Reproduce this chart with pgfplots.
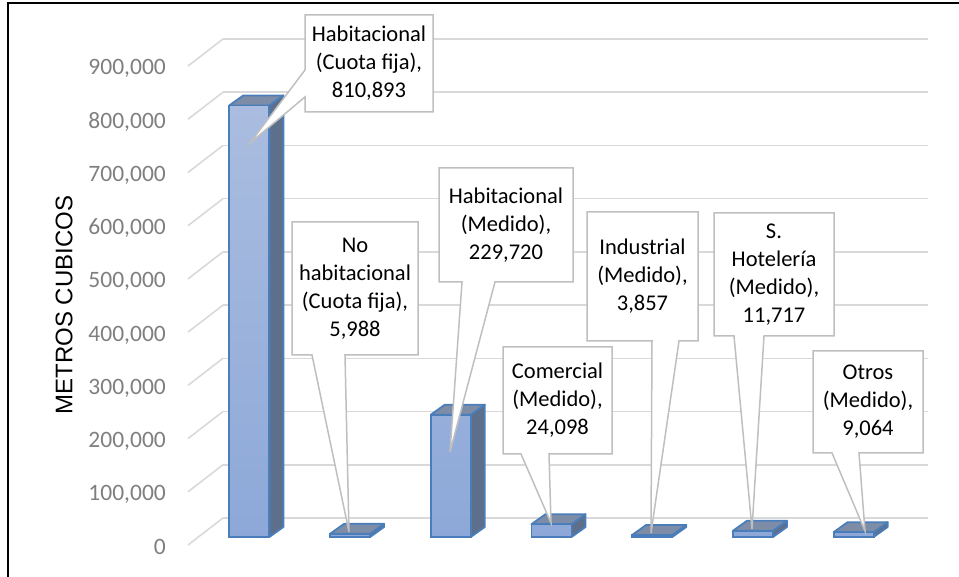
\documentclass[border=0pt]{standalone}
\usepackage{pgfplots}
\pgfplotsset{compat=1.18}
\usepackage{fontspec}
\setmainfont{Carlito}
\newfontfamily\arial{Liberation Sans}
\definecolor{edge}{HTML}{4A7EBB}
\definecolor{fronttop}{HTML}{AABDE0}
\definecolor{frontbot}{HTML}{8DA8D8}
\definecolor{sidec}{HTML}{5E6F8C}
\definecolor{topc}{HTML}{7E8DA7}
\definecolor{gridc}{HTML}{D9D9D9}
\definecolor{tickc}{HTML}{7F7F7F}
\definecolor{callc}{HTML}{BFBFBF}
\newcommand\calfont{\fontsize{22.5bp}{28bp}\selectfont}
% side and top faces of a 3D bar: #1 = category index, #2 = value
\newcommand\barthreed[2]{%
  \pgfmathsetmacro\xa{#1-0.4369}%
  \pgfmathsetmacro\xb{#1-0.0397}%
  \pgfmathsetmacro\xc{#1+0.0993}%
  \pgfmathsetmacro\xd{#1-0.2979}%
  \edef\ya{\the\numexpr#2-35700\relax}%
  \edef\yb{\the\numexpr#2-16910\relax}%
  \edef\tmp{%
    \noexpand\addplot[fill=sidec, draw=edge, line width=1.8bp, line join=round, forget plot]
      coordinates {(\xb,-35700) (\xb,\ya) (\xc,\yb) (\xc,-16910)} -- cycle;
    \noexpand\addplot[fill=topc, draw=edge, line width=1.8bp, line join=round, forget plot]
      coordinates {(\xa,\ya) (\xb,\ya) (\xc,\yb) (\xd,\yb)} -- cycle;
  }\tmp}
% callout with pointer at bottom: L T R B base1 base2 tipx tipy text
\newcommand\calloutB[9]{%
  \filldraw[fill=white, draw=callc, line width=1.5bp]
    (#1,#2) -- (#3,#2) -- (#3,#4) -- (#6,#4) -- (#7,#8) -- (#5,#4) -- (#1,#4) -- cycle;
  \node[align=center, font=\calfont, inner sep=0pt] at ({(#1+#3)/2},{(#2+#4)/2}) {#9};}
\begin{document}
\begin{tikzpicture}
\begin{axis}[
  scale only axis, width=705bp, height=479bp,
  xmin=-0.5, xmax=6.5, ymin=0, ymax=900000,
  clip=false,
  axis line style={draw=none},
  xtick=\empty,
  ytick={0,100000,200000,300000,400000,500000,600000,700000,800000,900000},
  major tick length=0pt,
  ymajorgrids, grid style={draw=gridc, line width=1.6bp},
  scaled y ticks=false,
  /pgf/number format/fixed,
  /pgf/number format/1000 sep={,},
  /pgf/number format/assume math mode=true,
  yticklabel style={anchor=base east, inner sep=0pt, xshift=-57bp, yshift=-36bp,
    font=\fontsize{23.5bp}{28bp}\selectfont, text=tickc},
  ylabel={METROS CUBICOS},
  ylabel style={at={(axis description cs:-0.2255,0.4447)}, anchor=center,
    font=\arial\fontsize{24bp}{28bp}\selectfont},
]
\barthreed{0}{810893}
\barthreed{1}{5988}
\barthreed{2}{229720}
\barthreed{3}{24098}
\barthreed{4}{3857}
\barthreed{5}{11717}
\barthreed{6}{9064}
\addplot[ybar, bar width=40bp, bar shift=-24bp, yshift=-19bp, draw=edge,
  line width=1.8bp, top color=fronttop, bottom color=frontbot]
  coordinates {(0,810893) (1,5988) (2,229720) (3,24098) (4,3857) (5,11717) (6,9064)};
\coordinate (O) at (axis cs:-0.5,0);
\end{axis}
\begin{scope}[shift={(O)}, xshift=-223bp, yshift=518bp, x=1bp, y=-1bp]
  % slanted floor segments of the grid
  \foreach \k in {0,...,9}{
    \draw[gridc, line width=1.6bp] (188,{545-53.222*\k}) -- (223,{518-53.222*\k});
  }
  % callouts
  \filldraw[fill=white, draw=callc, line width=1.5bp]
    (305,15) -- (433,15) -- (433,112) -- (305,112) -- (305,97) -- (250,143) -- (305,70) -- cycle;
  \node[align=center, font=\calfont, inner sep=0pt] at (369,63.5) {Habitacional\\(Cuota fija),\\810,893};
  \calloutB{292}{222}{418}{355}{312}{345}{349}{532}{No\\habitacional\\(Cuota fija),\\5,988}
  \calloutB{439}{168}{573}{282}{462}{495}{450}{452}{Habitacional\\(Medido),\\229,720}
  \calloutB{503}{347}{612}{454}{521}{549}{551}{523}{Comercial\\(Medido),\\24,098}
  \calloutB{587}{212}{698}{341}{652}{679}{651}{533}{Industrial\\(Medido),\\3,857}
  \calloutB{714}{213}{834}{336}{734}{764}{752}{529}{S.\\Hotelería\\(Medido),\\11,717}
  \calloutB{813}{351}{923}{453}{832}{859}{865}{531}{Otros\\(Medido),\\9,064}
  % frame
  \draw[black, line width=1.8bp] (8,577) -- (8,3) -- (959,3);
  \pgfresetboundingbox
  \path[use as bounding box] (0,0) rectangle (959,577);
\end{scope}
\end{tikzpicture}
\end{document}
